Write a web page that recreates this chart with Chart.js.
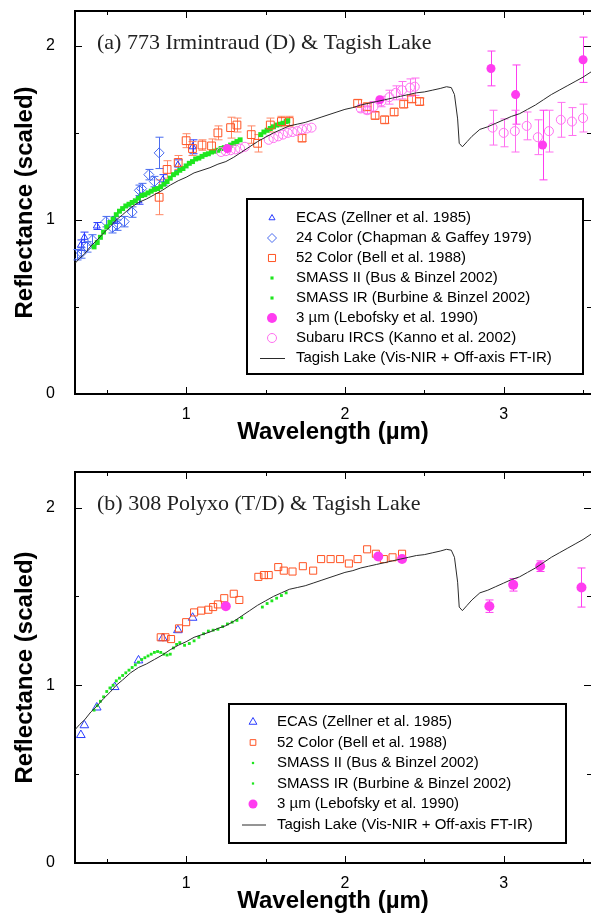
<!DOCTYPE html>
<html>
<head>
<meta charset="utf-8">
<title>Irmintraud / Polyxo vs Tagish Lake</title>
<script src="https://cdn.jsdelivr.net/npm/chart.js@4.4.1/dist/chart.umd.min.js"></script>
<style>
    html, body { margin: 0; padding: 0; background: #fff; }
    canvas { display: block; }
</style>
</head>
<body>
<canvas id="chartA" width="591" height="458"></canvas>
<canvas id="chartB" width="591" height="458"></canvas>
<script>
// Axis ticks (shared)
const xTicks = [1, 2, 3];
const xMinorTicks = [0.5, 1.5, 2.5, 3.5];
const yTicks = [0, 1, 2];
const yMinorTicks = [0.5, 1.5];

// Tagish Lake lab spectrum (same in both panels)
const tagishX = [0.30, 0.33, 0.36, 0.40, 0.44, 0.48, 0.52, 0.56, 0.60, 0.65, 0.70, 0.75, 0.80, 0.85, 0.90, 0.95,
    1.00, 1.05, 1.10, 1.15, 1.20, 1.25, 1.30, 1.35, 1.40, 1.45, 1.50, 1.55, 1.60, 1.65, 1.70, 1.75, 1.80, 1.85,
    1.90, 1.95, 2.00, 2.05, 2.10, 2.15, 2.20, 2.25, 2.30, 2.35, 2.40, 2.45, 2.50, 2.55, 2.60, 2.64, 2.67, 2.69,
    2.71, 2.72, 2.74, 2.77, 2.80, 2.85, 2.90, 2.95, 3.00, 3.05, 3.10, 3.15, 3.20, 3.25, 3.30, 3.35, 3.40, 3.45,
    3.50, 3.55];
const tagishY = [0.75, 0.78, 0.805, 0.85, 0.885, 0.925, 0.96, 1.00, 1.03, 1.07, 1.10, 1.12, 1.145, 1.17, 1.20, 1.225,
    1.245, 1.27, 1.285, 1.30, 1.32, 1.335, 1.36, 1.39, 1.42, 1.45, 1.475, 1.50, 1.52, 1.54, 1.55, 1.56, 1.575, 1.59,
    1.605, 1.62, 1.635, 1.645, 1.66, 1.67, 1.68, 1.69, 1.70, 1.71, 1.72, 1.73, 1.735, 1.745, 1.755, 1.765, 1.76, 1.72,
    1.58, 1.44, 1.42, 1.45, 1.48, 1.52, 1.535, 1.555, 1.575, 1.595, 1.61, 1.635, 1.66, 1.69, 1.72, 1.745, 1.77, 1.795,
    1.82, 1.85];

// (a) 773 Irmintraud
const ecasAX = [0.337, 0.359, 0.437, 0.55, 0.70, 0.853, 0.948, 1.041];
const ecasAY = [0.855, 0.90, 0.965, 1.00, 1.11, 1.23, 1.315, 1.42];
const ecasAErr = [0.03, 0.03, 0.02, 0.02, 0.02, 0.03, 0.03, 0.04];

const color24X = [0.31, 0.34, 0.375, 0.41, 0.495, 0.535, 0.565, 0.61, 0.66, 0.705, 0.72, 0.765, 0.80, 0.83];
const color24Y = [0.80, 0.81, 0.845, 0.885, 0.99, 0.955, 0.97, 0.99, 1.045, 1.17, 1.18, 1.26, 1.22, 1.385];
const color24Err = [0.03, 0.03, 0.03, 0.03, 0.03, 0.03, 0.03, 0.03, 0.03, 0.03, 0.03, 0.03, 0.03, 0.09];

const color52AX = [0.83, 0.88, 0.95, 1.00, 1.04, 1.10, 1.16, 1.20, 1.28, 1.32, 1.41, 1.45, 1.53, 1.60, 1.65, 1.73,
    2.08, 2.14, 2.19, 2.25, 2.31, 2.37, 2.42, 2.47];
const color52AY = [1.13, 1.29, 1.33, 1.455, 1.41, 1.43, 1.425, 1.50, 1.53, 1.545, 1.49, 1.44, 1.545, 1.565, 1.565, 1.47,
    1.67, 1.65, 1.60, 1.575, 1.62, 1.665, 1.695, 1.68];
const color52AErr = [0.10, 0.05, 0.04, 0.04, 0.04, 0.03, 0.04, 0.04, 0.06, 0.04, 0.05, 0.05, 0.04, 0.03, 0.03, 0.02,
    0.02, 0.02, 0.02, 0.02, 0.02, 0.02, 0.02, 0.02];

const smass2AX = [0.42, 0.44, 0.46, 0.48, 0.50, 0.52, 0.54, 0.56, 0.58, 0.60, 0.62, 0.64, 0.66, 0.68, 0.70, 0.72,
    0.74, 0.76, 0.78, 0.80, 0.82, 0.84, 0.86, 0.88, 0.90, 0.92];
const smass2AY = [0.845, 0.87, 0.90, 0.93, 0.96, 0.985, 1.005, 1.03, 1.05, 1.065, 1.08, 1.09, 1.10, 1.11, 1.125, 1.14,
    1.145, 1.155, 1.165, 1.175, 1.18, 1.19, 1.205, 1.22, 1.24, 1.26];

const smassIrAX = [0.94, 0.96, 0.98, 1.00, 1.02, 1.04, 1.06, 1.08, 1.10, 1.12, 1.14, 1.16, 1.18, 1.20, 1.22, 1.24,
    1.26, 1.28, 1.30, 1.32, 1.34, 1.47, 1.49, 1.51, 1.53, 1.55, 1.57, 1.59, 1.61, 1.63, 1.64];
const smassIrAY = [1.27, 1.285, 1.295, 1.31, 1.325, 1.335, 1.35, 1.355, 1.365, 1.375, 1.38, 1.39, 1.395, 1.40, 1.41,
    1.415, 1.42, 1.43, 1.44, 1.45, 1.46, 1.49, 1.505, 1.515, 1.525, 1.535, 1.545, 1.55, 1.555, 1.565, 1.57];

const lebAX = [1.26, 2.22, 2.92, 3.075, 3.245, 3.50];
const lebAY = [1.41, 1.69, 1.87, 1.72, 1.43, 1.92];
const lebAErr = [0, 0, 0.10, 0.17, 0.20, 0.13];

const subaruX = [1.22, 1.25, 1.28, 1.31, 1.34, 1.37, 1.52, 1.55, 1.58, 1.61, 1.64, 1.67, 1.70, 1.73, 1.76, 1.79,
    2.10, 2.14, 2.18, 2.23, 2.28, 2.32, 2.36, 2.41, 2.44,
    2.93, 3.00, 3.07, 3.145, 3.215, 3.285, 3.36, 3.43, 3.50];
const subaruY = [1.39, 1.395, 1.40, 1.405, 1.41, 1.42, 1.46, 1.47, 1.48, 1.49, 1.50, 1.505, 1.51, 1.52, 1.525, 1.53,
    1.64, 1.63, 1.65, 1.68, 1.705, 1.73, 1.745, 1.76, 1.765,
    1.53, 1.50, 1.51, 1.54, 1.475, 1.51, 1.575, 1.565, 1.585];
const subaruErr = [0, 0, 0, 0, 0, 0, 0, 0, 0, 0, 0, 0, 0, 0, 0, 0,
    0.02, 0.02, 0.03, 0.03, 0.04, 0.04, 0.05, 0.05, 0.05,
    0.10, 0.08, 0.12, 0.08, 0.10, 0.12, 0.10, 0.08, 0.08];

// (b) 308 Polyxo
const ecasBX = [0.337, 0.359, 0.437, 0.55, 0.70, 0.853, 0.948, 1.041];
const ecasBY = [0.72, 0.775, 0.875, 0.99, 1.14, 1.265, 1.31, 1.38];

const color52BX = [0.84, 0.87, 0.905, 0.955, 1.00, 1.05, 1.095, 1.14, 1.17, 1.20, 1.24, 1.30, 1.335, 1.455, 1.49,
    1.52, 1.58, 1.615, 1.67, 1.735, 1.80, 1.85, 1.91, 1.97, 2.025, 2.08, 2.14, 2.195, 2.245, 2.30, 2.36];
const color52BY = [1.27, 1.27, 1.26, 1.32, 1.355, 1.41, 1.42, 1.425, 1.44, 1.455, 1.49, 1.515, 1.48, 1.61, 1.62,
    1.62, 1.665, 1.645, 1.64, 1.67, 1.645, 1.71, 1.71, 1.71, 1.685, 1.71, 1.765, 1.74, 1.71, 1.72, 1.74];

const smass2BX = [0.42, 0.44, 0.46, 0.48, 0.50, 0.52, 0.54, 0.56, 0.58, 0.60, 0.62, 0.64, 0.66, 0.68, 0.70, 0.72,
    0.74, 0.76, 0.78, 0.80, 0.82, 0.84, 0.86, 0.88, 0.90, 0.92, 0.94];
const smass2BY = [0.86, 0.885, 0.91, 0.935, 0.965, 0.985, 1.00, 1.025, 1.04, 1.055, 1.07, 1.085, 1.10, 1.115, 1.13,
    1.145, 1.155, 1.165, 1.175, 1.185, 1.19, 1.185, 1.175, 1.17, 1.175, 1.21, 1.23];

const smassIrBX = [0.96, 0.99, 1.02, 1.05, 1.08, 1.11, 1.14, 1.17, 1.20, 1.23, 1.26, 1.29, 1.32, 1.35,
    1.48, 1.51, 1.54, 1.57, 1.60, 1.63];
const smassIrBY = [1.24, 1.225, 1.235, 1.25, 1.27, 1.29, 1.305, 1.31, 1.315, 1.33, 1.345, 1.355, 1.365, 1.38,
    1.44, 1.46, 1.475, 1.49, 1.505, 1.52];

const lebBX = [1.25, 2.21, 2.36, 2.91, 3.06, 3.23, 3.49];
const lebBY = [1.445, 1.725, 1.71, 1.445, 1.565, 1.67, 1.55];
const lebBErr = [0, 0, 0, 0.035, 0.035, 0.03, 0.11];

document.addEventListener('DOMContentLoaded', function () {
    const BLUE = '#2a3cff';
    const BLUE2 = '#4a6cf0';
    const ORANGE = '#ff5424';
    const GREEN = '#1ee61e';
    const MAGENTA = '#ff3cf0';
    const PINK = '#ff70f0';

    function pts(xs, ys) {
        return xs.map((x, i) => ({ x: x, y: ys[i] }));
    }

    // error bars, drawn under the markers
    const errorBars = {
        id: 'errorBars',
        beforeDatasetsDraw(chart) {
            const ctx = chart.ctx;
            const yScale = chart.scales.y;
            chart.data.datasets.forEach((ds, di) => {
                if (!ds.errors) return;
                const meta = chart.getDatasetMeta(di);
                ctx.save();
                ctx.strokeStyle = ds.errorColor || ds.borderColor;
                ctx.lineWidth = 1;
                meta.data.forEach((el, i) => {
                    const e = ds.errors[i];
                    if (!e) return;
                    const v = ds.data[i].y;
                    const y1 = yScale.getPixelForValue(v + e);
                    const y2 = yScale.getPixelForValue(v - e);
                    const x = Math.round(el.x) + 0.5;
                    ctx.beginPath();
                    ctx.moveTo(x, y1); ctx.lineTo(x, y2);
                    ctx.moveTo(x - 4, y1); ctx.lineTo(x + 4, y1);
                    ctx.moveTo(x - 4, y2); ctx.lineTo(x + 4, y2);
                    ctx.stroke();
                });
                ctx.restore();
            });
        }
    };

    // frame, inward ticks, panel label and boxed legend
    const decor = {
        id: 'decor',
        afterDraw(chart, args, opts) {
            const ctx = chart.ctx;
            const a = chart.chartArea;
            const xs = chart.scales.x;
            const ys = chart.scales.y;
            ctx.save();
            ctx.strokeStyle = '#000';
            ctx.lineWidth = 2;
            ctx.beginPath();
            ctx.moveTo(a.left - 1, a.top);
            ctx.lineTo(a.right, a.top);
            ctx.stroke();

            ctx.lineWidth = 1;
            ctx.beginPath();
            const xTick = (v, len) => {
                const px = Math.round(xs.getPixelForValue(v)) + 0.5;
                ctx.moveTo(px, a.bottom); ctx.lineTo(px, a.bottom - len);
                ctx.moveTo(px, a.top); ctx.lineTo(px, a.top + len);
            };
            const yTick = (v, len) => {
                const py = Math.round(ys.getPixelForValue(v)) + 0.5;
                ctx.moveTo(a.left, py); ctx.lineTo(a.left + len, py);
                ctx.moveTo(a.right, py); ctx.lineTo(a.right - len, py);
            };
            xTicks.forEach(v => xTick(v, 7));
            xMinorTicks.forEach(v => xTick(v, 4));
            yTicks.forEach(v => yTick(v, 7));
            yMinorTicks.forEach(v => yTick(v, 4));
            ctx.stroke();

            // panel label
            ctx.fillStyle = '#222';
            ctx.font = '22px "Liberation Serif", "Times New Roman", serif';
            ctx.textBaseline = 'middle';
            ctx.textAlign = 'left';
            ctx.fillText(opts.label, a.left + 22, a.top + 32);

            // legend box
            const b = opts.box;
            ctx.fillStyle = '#fff';
            ctx.fillRect(b.x1, b.y1, b.x2 - b.x1, b.y2 - b.y1);
            ctx.lineWidth = 2;
            ctx.strokeStyle = '#000';
            ctx.strokeRect(b.x1, b.y1, b.x2 - b.x1, b.y2 - b.y1);

            ctx.font = '15px "Liberation Sans", Arial, sans-serif';
            chart.data.datasets.forEach((ds, i) => {
                const y = b.row0 + i * b.step;
                if (ds.showLine) {
                    ctx.strokeStyle = ds.borderColor;
                    ctx.lineWidth = 1;
                    ctx.beginPath();
                    ctx.moveTo(b.lineX1, y + 0.5);
                    ctx.lineTo(b.lineX2, y + 0.5);
                    ctx.stroke();
                } else {
                    ctx.fillStyle = ds.backgroundColor;
                    ctx.strokeStyle = ds.borderColor;
                    ctx.lineWidth = ds.borderWidth;
                    Chart.helpers.drawPoint(ctx, {
                        pointStyle: ds.pointStyle,
                        radius: ds.legendRadius,
                        borderWidth: ds.borderWidth,
                        rotation: 0
                    }, b.symX, y);
                }
                ctx.fillStyle = '#000';
                ctx.fillText(ds.label, b.textX, y);
            });
            ctx.restore();
        }
    };

    function openSet(label, xs, ys, style, color, r, lr, order, errors, errColor) {
        return {
            label: label,
            data: pts(xs, ys),
            pointStyle: style,
            pointRadius: r,
            legendRadius: lr,
            borderColor: color,
            backgroundColor: 'rgba(0,0,0,0)',
            borderWidth: 1,
            order: order,
            errors: errors,
            errorColor: errColor
        };
    }

    function filledSet(label, xs, ys, style, color, r, lr, order, errors) {
        return {
            label: label,
            data: pts(xs, ys),
            pointStyle: style,
            pointRadius: r,
            legendRadius: lr,
            borderColor: color,
            backgroundColor: color,
            borderWidth: 0,
            order: order,
            errors: errors
        };
    }

    function tagishSet() {
        return {
            type: 'line',
            label: 'Tagish Lake (Vis-NIR + Off-axis FT-IR)',
            data: pts(tagishX, tagishY),
            showLine: true,
            borderColor: '#2a2a2a',
            borderWidth: 1,
            pointRadius: 0,
            tension: 0,
            fill: false,
            order: 0
        };
    }

    // no edge padding for end labels: the plot box is pinned
    function noPad(s) {
        s.paddingTop = 0;
        s.paddingBottom = 0;
        s.paddingLeft = 0;
        s.paddingRight = 0;
    }

    function makePanel(id, datasets, topPad, xHeight, xTitlePad, decorOpts) {
        new Chart(document.getElementById(id), {
            type: 'scatter',
            data: { datasets: datasets },
            plugins: [errorBars, decor],
            options: {
                responsive: false,
                animation: false,
                layout: { autoPadding: false, padding: { top: topPad, right: 0, left: 0, bottom: 0 } },
                plugins: {
                    legend: { display: false },
                    tooltip: { enabled: false },
                    decor: decorOpts
                },
                scales: {
                    x: {
                        type: 'linear',
                        min: 0.3,
                        max: 3.55,
                        afterBuildTicks: s => { s.ticks = xTicks.map(v => ({ value: v })); },
                        afterFit: s => { s.height = xHeight; noPad(s); },
                        grid: { display: false },
                        border: { display: true, color: '#000', width: 2 },
                        ticks: {
                            color: '#000',
                            padding: 3,
                            maxRotation: 0,
                            autoSkip: false,
                            font: { family: 'Liberation Sans', size: 16 }
                        },
                        title: {
                            display: true,
                            text: 'Wavelength (\u00b5m)',
                            color: '#000',
                            padding: { top: 0, bottom: xTitlePad },
                            font: { family: 'Liberation Sans', size: 24, weight: 'bold' }
                        }
                    },
                    y: {
                        min: 0,
                        max: 2.2,
                        afterBuildTicks: s => { s.ticks = yTicks.map(v => ({ value: v })); },
                        afterFit: s => { s.width = 75; noPad(s); },
                        grid: { display: false },
                        border: { display: true, color: '#000', width: 2 },
                        ticks: {
                            color: '#000',
                            padding: 12,
                            font: { family: 'Liberation Sans', size: 16 }
                        },
                        title: {
                            display: true,
                            text: 'Reflectance (scaled)',
                            color: '#000',
                            padding: { top: 11, bottom: 0 },
                            font: { family: 'Liberation Sans', size: 24, weight: 'bold' }
                        }
                    }
                }
            }
        });
    }

    // (a) Irmintraud
    makePanel('chartA', [
        openSet('ECAS (Zellner et al. 1985)', ecasAX, ecasAY, 'triangle', BLUE, 4, 3.5, 6, ecasAErr),
        openSet('24 Color (Chapman & Gaffey 1979)', color24X, color24Y, 'rectRot', BLUE2, 5, 4.5, 5, color24Err),
        openSet('52 Color (Bell et al. 1988)', color52AX, color52AY, 'rect', ORANGE, 5.5, 5, 3, color52AErr, '#ff8866'),
        filledSet('SMASS II (Bus & Binzel 2002)', smass2AX, smass2AY, 'rect', GREEN, 3.5, 2.2, 4),
        filledSet('SMASS IR (Burbine & Binzel 2002)', smassIrAX, smassIrAY, 'rect', GREEN, 3.5, 2.2, 4),
        filledSet('3 \u00b5m (Lebofsky et al. 1990)', lebAX, lebAY, 'circle', MAGENTA, 4.5, 5, 1, lebAErr),
        openSet('Subaru IRCS (Kanno et al. 2002)', subaruX, subaruY, 'circle', PINK, 4.5, 4.5, 2, subaruErr),
        tagishSet()
    ], 11, 64, 11, {
        label: '(a) 773 Irmintraud (D) & Tagish Lake',
        box: { x1: 247, y1: 199, x2: 583, y2: 374, row0: 218, step: 20, symX: 272, textX: 296, lineX1: 260, lineX2: 285 }
    });

    // (b) Polyxo
    makePanel('chartB', [
        openSet('ECAS (Zellner et al. 1985)', ecasBX, ecasBY, 'triangle', BLUE, 5, 4.5, 6),
        openSet('52 Color (Bell et al. 1988)', color52BX, color52BY, 'rect', ORANGE, 5, 4, 3),
        filledSet('SMASS II (Bus & Binzel 2002)', smass2BX, smass2BY, 'rect', GREEN, 2, 1.6, 4),
        filledSet('SMASS IR (Burbine & Binzel 2002)', smassIrBX, smassIrBY, 'rect', GREEN, 2, 1.6, 4),
        filledSet('3 \u00b5m (Lebofsky et al. 1990)', lebBX, lebBY, 'circle', MAGENTA, 5, 4.5, 1, lebBErr),
        tagishSet()
    ], 14, 53, 0, {
        label: '(b) 308 Polyxo (T/D) & Tagish Lake',
        box: { x1: 229, y1: 246, x2: 566, y2: 385, row0: 264, step: 20.5, symX: 253, textX: 277, lineX1: 242, lineX2: 266 }
    });
});
</script>
</body>
</html>
